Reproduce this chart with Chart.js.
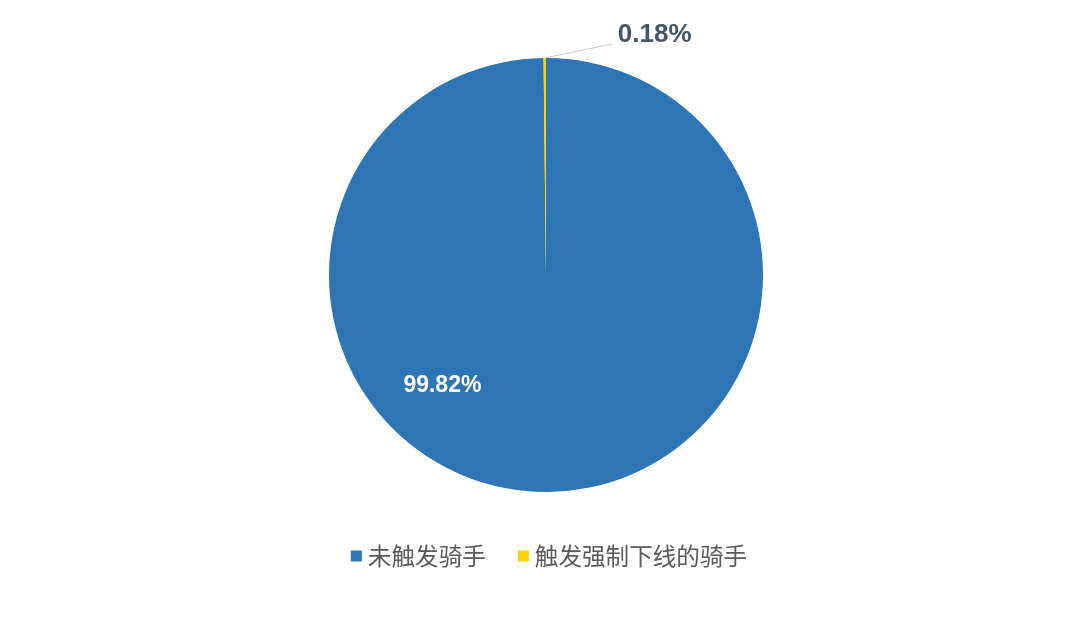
<!DOCTYPE html>
<html><head><meta charset="utf-8">
<script src="https://cdn.jsdelivr.net/npm/chart.js@4.4.0/dist/chart.umd.min.js"></script>
<style>html,body{margin:0;padding:0;background:#fff;}#wrap{width:1080px;height:622px;}</style>
</head><body><div id="wrap"><canvas id="c"></canvas></div>
<script>
const categories = ["未触发骑手", "触发强制下线的骑手"];
const values = [99.82, 0.18];
const valueLabels = ["99.82%", "0.18%"];
const colors = ["#2E75B6", "#FFD200"];

const labelPlugin = {
  id: 'labels',
  afterDatasetsDraw(chart) {
    const ctx = chart.ctx;
    const meta = chart.getDatasetMeta(0);
    const a0 = meta.data[0];
    const r = a0.outerRadius;
    const ang = 133 * Math.PI / 180;
    ctx.save();
    ctx.font = 'bold 23px "Liberation Sans", Arial, sans-serif';
    ctx.fillStyle = '#ffffff';
    ctx.textAlign = 'center';
    ctx.textBaseline = 'middle';
    ctx.fillText(valueLabels[0], a0.x + Math.cos(ang) * r * 0.70, a0.y + Math.sin(ang) * r * 0.70);
    const a1 = meta.data[1];
    const mid = (a1.startAngle + a1.endAngle) / 2;
    const px = a1.x + Math.cos(mid) * a1.outerRadius;
    const py = a1.y + Math.sin(mid) * a1.outerRadius;
    const ex = px + 67, ey = py - 14;
    ctx.strokeStyle = '#c8c8c8';
    ctx.lineWidth = 1;
    ctx.beginPath();
    ctx.moveTo(px, py);
    ctx.lineTo(ex, ey);
    ctx.stroke();
    ctx.font = 'bold 26px "Liberation Sans", Arial, sans-serif';
    ctx.fillStyle = '#44546A';
    ctx.textAlign = 'left';
    ctx.fillText(valueLabels[1], ex + 6, ey - 9);
    // legend
    ctx.font = '23.6px "Noto Sans CJK SC", sans-serif';
    ctx.textBaseline = 'middle';
    const box = 11, gapBox = 6, gapItem = 32;
    const widths = categories.map(t => ctx.measureText(t).width);
    let total = 0;
    widths.forEach((w, i) => { total += box + gapBox + w + (i < widths.length - 1 ? gapItem : 0); });
    let x = 549 - total / 2;
    const y = 556;
    categories.forEach((t, i) => {
      ctx.fillStyle = colors[i];
      ctx.fillRect(x, y - box / 2, box, box);
      x += box + gapBox;
      ctx.fillStyle = '#595959';
      ctx.fillText(t, x, y);
      x += widths[i] + gapItem;
    });
    ctx.restore();
  }
};

new Chart(document.getElementById('c'), {
  type: 'pie',
  data: {
    labels: categories,
    datasets: [{
      data: values,
      backgroundColor: colors,
      borderColor: '#ffffff',
      borderWidth: 0
    }]
  },
  options: {
    responsive: true,
    maintainAspectRatio: false,
    animation: false,
    layout: { padding: { top: 58, bottom: 130, left: 12, right: 0 } },
    plugins: { legend: { display: false }, tooltip: { enabled: false } }
  },
  plugins: [labelPlugin]
});
</script></body></html>
